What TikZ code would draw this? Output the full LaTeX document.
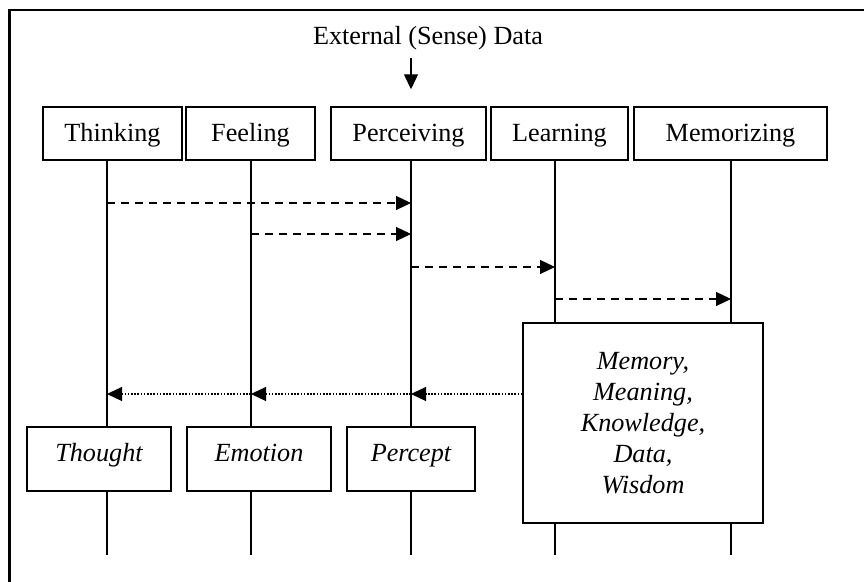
\documentclass[tikz,border=0pt]{standalone}
\usepackage{fontspec}
\setmainfont{Liberation Serif}
\usetikzlibrary{arrows.meta,positioning}

\begin{document}
\begin{tikzpicture}[x=0.5pt,y=-0.5pt,
  font=\fontsize{13.1}{15.5}\selectfont,
  act/.style={draw,line width=0.7pt,fill=white,inner sep=2pt,
              minimum height=26.5pt,text height=10.4pt,text depth=2pt},
  res/.style={act,minimum height=32pt,text height=8pt,text depth=5pt,
              font=\fontsize{13.1}{15.5}\selectfont\itshape},
  life/.style={line width=0.6pt},
  msg/.style={-{Triangle[length=7.5pt,width=7pt]},line width=0.6pt,
              dash pattern=on 4pt off 3pt},
  back/.style={-{Triangle[length=7.5pt,width=7pt]},line width=0.6pt,
               dash pattern=on 0.8pt off 0.8pt},
]
\useasboundingbox (0,0) rectangle (864,582);
\draw[line width=1.1pt] (9.5,582) -- (9.5,10) -- (864,10);

\node[anchor=base] (ext) at (428,45) {External (Sense) Data};

\node[act,minimum width=69.5pt] (thinking) at (112.5,133.5) {Thinking};
\node[act,minimum width=64.5pt] (feeling) at (250.5,133.5) {Feeling};
\node[act,minimum width=77.5pt] (perceiving) at (408.5,133.5) {Perceiving};
\node[act,minimum width=68.5pt] (learning) at (559.5,133.5) {Learning};
\node[act,minimum width=96.5pt] (memorizing) at (730.5,133.5) {Memorizing};

\coordinate (tEnd) at (107,555);
\coordinate (fEnd) at (251,555);
\coordinate (pEnd) at (411,555);
\coordinate (lEnd) at (555,555);
\coordinate (mEnd) at (731,555);

\draw[life,-{Triangle[length=7.5pt,width=7pt]},shorten >=8.5pt]
  (pEnd |- 0,58) -- (pEnd |- perceiving.north);

\draw[life] (tEnd |- thinking.south) -- (tEnd);
\draw[life] (fEnd |- feeling.south) -- (fEnd);
\draw[life] (pEnd |- perceiving.south) -- (pEnd);
\draw[life] (lEnd |- learning.south) -- (lEnd);
\draw[life] (mEnd |- memorizing.south) -- (mEnd);

\node[res,minimum width=72pt] (thought) at (99,459) {Thought};
\node[res,minimum width=72pt] (emotion) at (259,459) {Emotion};
\node[res,minimum width=64pt] (percept) at (411,459) {Percept};
\node[draw,line width=0.7pt,fill=white,minimum width=120pt,minimum height=100pt,
      text width=110pt,align=center,font=\fontsize{13.1}{15.5}\selectfont\itshape]
  (memory) at (643,423) {Memory,\\Meaning,\\Knowledge,\\Data,\\Wisdom\\[7pt]};

\draw[msg] (tEnd |- 0,203) -- (pEnd |- 0,203);
\draw[msg] (fEnd |- 0,234) -- (pEnd |- 0,234);
\draw[msg] (pEnd |- 0,267) -- (lEnd |- 0,267);
\draw[msg] (lEnd |- 0,299) -- (mEnd |- 0,299);

\draw[back] (memory.west |- 0,394) -- (pEnd |- 0,394);
\draw[back] (pEnd |- 0,394) -- (fEnd |- 0,394);
\draw[back] (fEnd |- 0,394) -- (tEnd |- 0,394);
\end{tikzpicture}
\end{document}
